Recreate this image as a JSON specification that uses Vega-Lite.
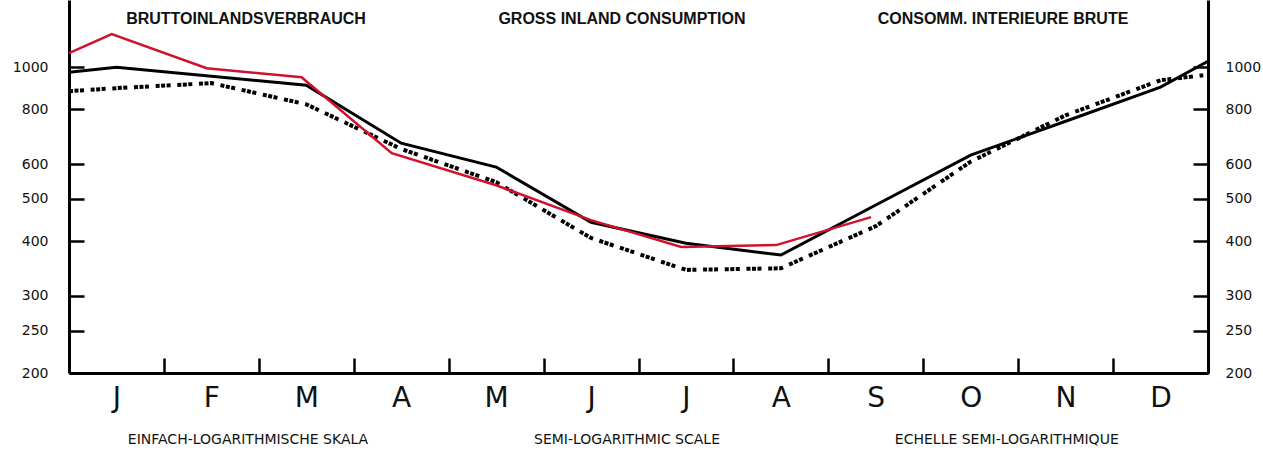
{
  "$schema": "https://vega.github.io/schema/vega-lite/v6.json",
  "width": 1139,
  "height": 373,
  "autosize": {"type": "none"},
  "padding": {"left": 69, "top": 0, "right": 55, "bottom": 77},
  "background": "white",
  "config": {
    "view": {"stroke": null},
    "axis": {"grid": false, "domainColor": "#000", "domainWidth": 3, "tickColor": "#000", "tickWidth": 2.5, "labelColor": "#111", "labelFont": "DejaVu Sans", "title": null}
  },
  "datasets": {
    "series": [
      {"s": "dotted", "m": 0, "v": 881}, {"s": "dotted", "m": 0.5, "v": 895}, {"s": "dotted", "m": 1.5, "v": 919}, {"s": "dotted", "m": 2.5, "v": 822}, {"s": "dotted", "m": 3.5, "v": 650}, {"s": "dotted", "m": 4.5, "v": 546}, {"s": "dotted", "m": 5.5, "v": 407}, {"s": "dotted", "m": 6.5, "v": 344}, {"s": "dotted", "m": 7.5, "v": 347}, {"s": "dotted", "m": 8.5, "v": 433}, {"s": "dotted", "m": 9.5, "v": 608}, {"s": "dotted", "m": 10.5, "v": 776}, {"s": "dotted", "m": 11.5, "v": 933}, {"s": "dotted", "m": 11.95, "v": 958},
      {"s": "black", "m": 0, "v": 973}, {"s": "black", "m": 0.5, "v": 999}, {"s": "black", "m": 1.5, "v": 953}, {"s": "black", "m": 2.5, "v": 909}, {"s": "black", "m": 3.5, "v": 670}, {"s": "black", "m": 4.5, "v": 591}, {"s": "black", "m": 5.5, "v": 442}, {"s": "black", "m": 6.5, "v": 396}, {"s": "black", "m": 7.5, "v": 372}, {"s": "black", "m": 8.5, "v": 484}, {"s": "black", "m": 9.5, "v": 629}, {"s": "black", "m": 10.5, "v": 752}, {"s": "black", "m": 11.5, "v": 900}, {"s": "black", "m": 12, "v": 1031},
      {"s": "red", "m": 0, "v": 1076}, {"s": "red", "m": 0.45, "v": 1189}, {"s": "red", "m": 1.45, "v": 994}, {"s": "red", "m": 2.45, "v": 948}, {"s": "red", "m": 3.4, "v": 636}, {"s": "red", "m": 4.5, "v": 537}, {"s": "red", "m": 5.5, "v": 447}, {"s": "red", "m": 6.45, "v": 388}, {"s": "red", "m": 7.45, "v": 392}, {"s": "red", "m": 8.45, "v": 454}
    ],
    "top": [
      {"t": "BRUTTOINLANDSVERBRAUCH", "m": 1.865, "v": 1286},
      {"t": "GROSS INLAND CONSUMPTION", "m": 5.826, "v": 1286},
      {"t": "CONSOMM. INTERIEURE BRUTE", "m": 9.84, "v": 1286}
    ],
    "bottom": [
      {"t": "EINFACH-LOGARITHMISCHE SKALA", "m": 1.886, "v": 140.7},
      {"t": "SEMI-LOGARITHMIC SCALE", "m": 5.879, "v": 140.7},
      {"t": "ECHELLE SEMI-LOGARITHMIQUE", "m": 9.88, "v": 140.7}
    ]
  },
  "encoding": {
    "x": {
      "field": "m", "type": "quantitative",
      "scale": {"domain": [0, 12], "nice": false, "zero": false},
      "axis": {
        "values": [1, 2, 3, 4, 5, 6, 7, 8, 9, 10, 11, 12],
        "tickSize": -15,
        "labelExpr": "['J','F','M','A','M','J','J','A','S','O','N','D'][datum.value - 1]",
        "labelOffset": -47.5,
        "labelFontSize": 28,
        "labelPadding": 26,
        "labelFlush": false,
        "labelOverlap": false,
        "labelBound": false,
        "labelColor": "#111"
      }
    },
    "y": {
      "field": "v", "type": "quantitative",
      "scale": {"type": "log", "domain": [200, 1423], "nice": false}
    }
  },
  "layer": [
    {
      "data": {"name": "series"},
      "transform": [{"filter": "datum.s === 'dotted'"}],
      "mark": {"type": "line", "color": "#000", "strokeWidth": 4, "strokeDash": [4, 1.5, 4, 1.5, 4, 6.7], "strokeCap": "butt"},
      "encoding": {
        "y": {"field": "v", "type": "quantitative", "axis": {"orient": "left", "values": [200, 250, 300, 400, 500, 600, 800, 1000], "format": "d", "tickSize": -15, "labelPadding": 36, "labelFontSize": 14}}
      }
    },
    {
      "data": {"name": "series"},
      "transform": [{"filter": "datum.s === 'black'"}],
      "mark": {"type": "line", "color": "#000", "strokeWidth": 3},
      "encoding": {
        "y": {"field": "v", "type": "quantitative", "axis": {"orient": "right", "values": [200, 250, 300, 400, 500, 600, 800, 1000], "format": "d", "tickSize": -15, "labelPadding": 32, "labelFontSize": 14}}
      }
    },
    {
      "data": {"name": "series"},
      "transform": [{"filter": "datum.s === 'red'"}],
      "mark": {"type": "line", "color": "#d0122e", "strokeWidth": 2.5},
      "encoding": {
        "y": {"field": "v", "type": "quantitative", "axis": null}
      }
    },
    {
      "data": {"name": "top"},
      "mark": {"type": "text", "font": "Liberation Sans", "fontWeight": "bold", "fontSize": 16, "color": "#111", "baseline": "middle", "align": "center"},
      "encoding": {
        "y": {"field": "v", "type": "quantitative", "axis": null},
        "text": {"field": "t"}
      }
    },
    {
      "data": {"name": "bottom"},
      "mark": {"type": "text", "font": "DejaVu Sans", "fontSize": 14, "color": "#111", "baseline": "middle", "align": "center"},
      "encoding": {
        "y": {"field": "v", "type": "quantitative", "axis": null},
        "text": {"field": "t"}
      }
    }
  ],
  "resolve": {"axis": {"y": "independent"}}
}
